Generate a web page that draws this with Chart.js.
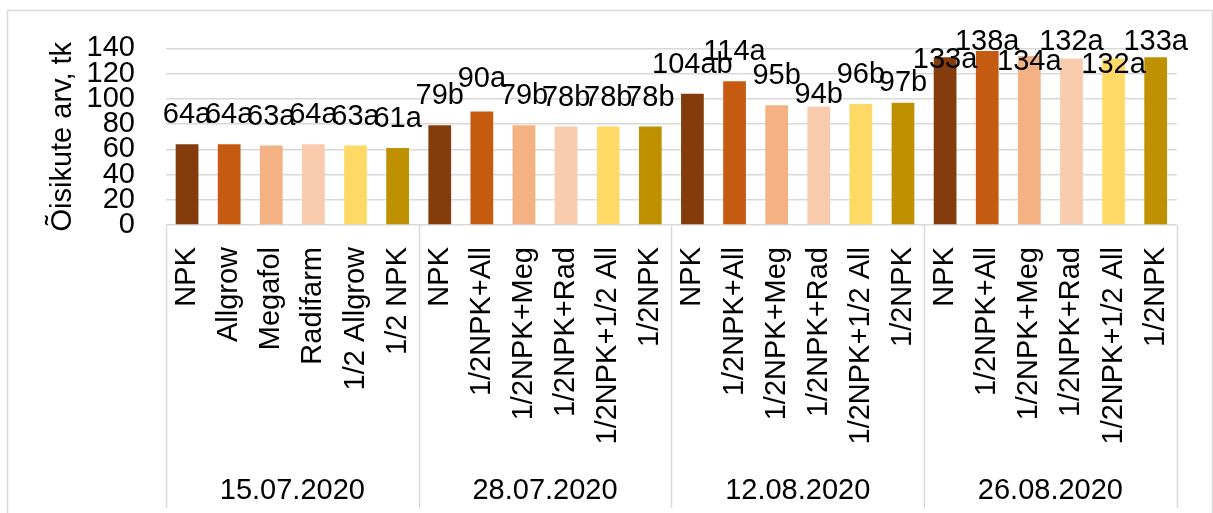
<!DOCTYPE html>
<html>
<head>
<meta charset="utf-8">
<script src="https://cdn.jsdelivr.net/npm/chart.js@4.4.1/dist/chart.umd.min.js"></script>
<style>
  body { margin: 0; background: #fff; }
  #wrap { position: relative; width: 1213px; height: 513px; }
</style>
</head>
<body>
<div id="wrap"><canvas id="chart" width="1213" height="513"></canvas></div>
<script>
// sampling dates (group labels)
const dates = ['15.07.2020', '28.07.2020', '12.08.2020', '26.08.2020'];

// treatments per date
const treatments1 = ['NPK', 'Allgrow', 'Megafol', 'Radifarm', '1/2 Allgrow', '1/2 NPK'];
const treatments2 = ['NPK', '1/2NPK+All', '1/2NPK+Meg', '1/2NPK+Rad', '1/2NPK+1/2 All', '1/2NPK'];
const treatments3 = ['NPK', '1/2NPK+All', '1/2NPK+Meg', '1/2NPK+Rad', '1/2NPK+1/2 All', '1/2NPK'];
const treatments4 = ['NPK', '1/2NPK+All', '1/2NPK+Meg', '1/2NPK+Rad', '1/2NPK+1/2 All', '1/2NPK'];

// inflorescence counts
const counts1 = [64, 64, 63, 64, 63, 61];
const counts2 = [79, 90, 79, 78, 78, 78];
const counts3 = [104, 114, 95, 94, 96, 97];
const counts4 = [133, 138, 134, 132, 132, 133];

// significance letters
const letters1 = ['a', 'a', 'a', 'a', 'a', 'a'];
const letters2 = ['b', 'a', 'b', 'b', 'b', 'b'];
const letters3 = ['ab', 'a', 'b', 'b', 'b', 'b'];
const letters4 = ['a', 'a', 'a', 'a', 'a', 'a'];

const yTicks = [0, 20, 40, 60, 80, 100, 120, 140];

const barColors = ['#843C0C', '#C55A11', '#F4B183', '#F8CBAD', '#FFD966', '#BF9000'];
// how far some labels were dragged down in the original (px)
const labelDrop = [0, 0, 0, 0, 0, 0, 0, -3, 0, 0, 0, 0, 0, 0, 0, 18, 0, 9, 32, 20, 35, 13, 36, 14];

const FONT = '"Liberation Sans", Arial, sans-serif';
const SIZE = 29;
const GRID = '#D9D9D9';

const labels = [...treatments1, ...treatments2, ...treatments3, ...treatments4];
const values = [...counts1, ...counts2, ...counts3, ...counts4];
const valueText = values.map((v, i) => v + [...letters1, ...letters2, ...letters3, ...letters4][i]);
const colors = labels.map((l, i) => barColors[i % 6]);

const extras = {
  id: 'extras',
  beforeDraw(chart) {
    const ctx = chart.ctx;
    ctx.save();
    ctx.fillStyle = '#fff';
    ctx.fillRect(0, 0, chart.width, chart.height);
    ctx.strokeStyle = GRID;
    ctx.lineWidth = 1.5;
    ctx.strokeRect(7.5, 10.5, 1205, 504);
    ctx.restore();
  },
  afterDatasetsDraw(chart) {
    const ctx = chart.ctx;
    const meta = chart.getDatasetMeta(0);
    ctx.save();
    ctx.font = SIZE + 'px ' + FONT;
    ctx.fillStyle = '#000';
    ctx.textAlign = 'center';
    ctx.textBaseline = 'alphabetic';
    meta.data.forEach((bar, i) => {
      ctx.fillText(valueText[i], bar.x, bar.y - 21 + labelDrop[i]);
    });
    ctx.restore();
  },
  afterDraw(chart) {
    const ctx = chart.ctx;
    const xs = chart.scales.x;
    const top = chart.chartArea.bottom;
    const step = xs.width / labels.length;
    ctx.save();
    ctx.strokeStyle = GRID;
    ctx.lineWidth = 1.5;
    for (let g = 0; g <= dates.length; g++) {
      const x = Math.round(xs.left + step * 6 * g) + 0.5;
      ctx.beginPath();
      ctx.moveTo(x, top);
      ctx.lineTo(x, 508);
      ctx.stroke();
    }
    ctx.font = SIZE + 'px ' + FONT;
    ctx.fillStyle = '#000';
    ctx.textAlign = 'center';
    ctx.textBaseline = 'middle';
    dates.forEach((d, g) => {
      ctx.fillText(d, xs.left + step * (6 * g + 3), 491);
    });
    ctx.restore();
  }
};

new Chart(document.getElementById('chart'), {
  type: 'bar',
  data: {
    labels: labels,
    datasets: [{
      data: values,
      backgroundColor: colors,
      borderWidth: 0,
      categoryPercentage: 1,
      barPercentage: 0.54
    }]
  },
  options: {
    responsive: false,
    animation: false,
    layout: { padding: { left: 8, top: 43, right: 25, bottom: 0 } },
    plugins: { legend: { display: false }, tooltip: { enabled: false } },
    scales: {
      x: {
        grid: { display: false, drawTicks: false },
        border: { display: false },
        ticks: {
          autoSkip: false,
          minRotation: 90,
          maxRotation: 90,
          padding: 22,
          color: '#000',
          font: { family: FONT, size: SIZE }
        },
        afterFit(scale) { scale.height = 288; }
      },
      y: {
        min: 0,
        max: 140,
        afterBuildTicks(scale) { scale.ticks = yTicks.map(v => ({ value: v })); },
        grid: { color: GRID, lineWidth: 1.5, drawTicks: false },
        border: { display: false },
        ticks: {
          autoSkip: false,
          padding: 31,
          color: '#000',
          font: { family: FONT, size: SIZE }
        },
        title: {
          display: true,
          text: 'Õisikute arv, tk',
          color: '#000',
          padding: { top: 38 },
          font: { family: FONT, size: SIZE }
        },
        afterFit(scale) { scale.width = 158; }
      }
    }
  },
  plugins: [extras]
});
</script>
</body>
</html>
